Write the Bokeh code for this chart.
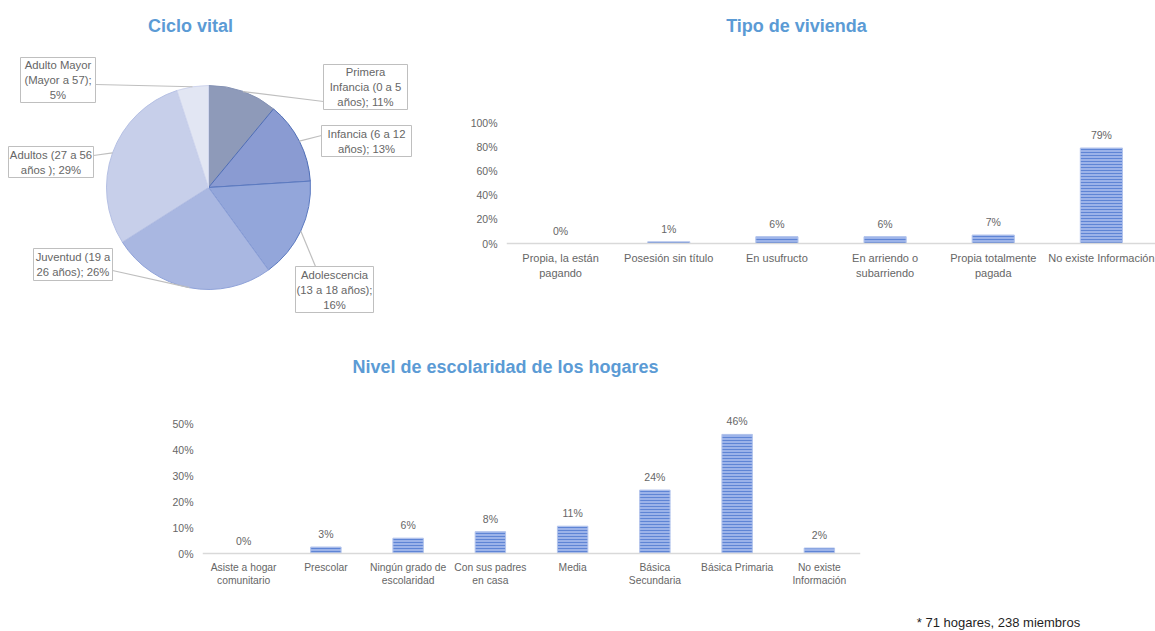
import math
from bokeh.plotting import figure
from bokeh.layouts import column, row
from bokeh.models import Range1d, FixedTicker, PrintfTickFormatter, ColumnDataSource
from bokeh.core.properties import value
from bokeh.embed import file_html
from bokeh.resources import INLINE

# ---------------- data ----------------
ciclo_names = ["Primera\nInfancia (0 a 5\naños)", "Infancia (6 a 12\naños)",
               "Adolescencia\n(13 a 18 años)", "Juventud (19 a\n26 años)",
               "Adultos (27 a 56\naños )", "Adulto Mayor\n(Mayor a 57)"]
ciclo_pct = [11, 13, 16, 26, 29, 5]
ciclo_sep = [" ", " ", "\n", " ", " ", "\n"]

vivienda_labels = ["Propia, la están\npagando", "Posesión sin título", "En usufructo",
                   "En arriendo o\nsubarriendo", "Propia totalmente\npagada", "No existe Información"]
vivienda_pct = [0.0, 1.4, 5.6, 5.6, 7.0, 78.9]
vivienda_ticks = [0, 20, 40, 60, 80, 100]

escolaridad_labels = ["Asiste a hogar\ncomunitario", "Prescolar", "Ningún grado de\nescolaridad",
                      "Con sus padres\nen casa", "Media", "Básica\nSecundaria",
                      "Básica Primaria", "No existe\nInformación"]
escolaridad_pct = [0.0, 2.5, 5.9, 8.4, 10.5, 24.4, 45.8, 2.1]
escolaridad_ticks = [0, 10, 20, 30, 40, 50]

titles = ["Ciclo vital", "Tipo de vivienda", "Nivel de escolaridad de los hogares"]
footnote = "* 71 hogares, 238 miembros"

# ---------------- styles ----------------
FONT = "Liberation Sans"
TITLE_COLOR = "#5B9BD5"
TEXT_GREY = "#666666"
ciclo_colors = ["#8E9AB9", "#8A9BD2", "#93A6DA", "#A9B7E1", "#C7CFEA", "#E2E6F3"]
ciclo_edges = ["#8592B4", "#4E6DB5", "#5C7AC0", "#8FA2D8", "#B5C0E4", "#D0D6EE"]


def pct_label(v):
    return "%d%%" % int(math.floor(v + 0.5))


def clean(p):
    p.grid.visible = False
    p.outline_line_color = None
    p.background_fill_color = "white"
    p.border_fill_color = "white"


# ---------------- pie (page x 0..440, page y 0..330) ----------------
pie = figure(width=440, height=330, x_range=Range1d(0, 440), y_range=Range1d(0, 330),
             output_backend="svg", toolbar_location=None, min_border=0)
clean(pie)
pie.axis.visible = False


def py(page_y):
    return 330 - page_y


cx, cy, R = 208, py(187), 102
total = float(sum(ciclo_pct))
starts, ends, mids = [], [], []
acc = 0.0
for v in ciclo_pct:
    a0 = acc / total
    acc += v
    a1 = acc / total
    starts.append(math.pi / 2 - 2 * math.pi * a0)
    ends.append(math.pi / 2 - 2 * math.pi * a1)
    mids.append(math.pi / 2 - 2 * math.pi * (a0 + a1) / 2)

wsrc = ColumnDataSource(dict(start=starts, end=ends, color=ciclo_colors, edge=ciclo_edges))
pie.wedge(x=cx, y=cy, radius=R, start_angle="start", end_angle="end", direction="clock",
          fill_color="color", line_color="edge", line_width=1, source=wsrc)

# label boxes (page coords: left, right, top, bottom) and leader anchors
boxes = [(323, 407, 64, 109), (321, 411, 125, 156), (295, 373, 266, 312),
         (33, 112, 248, 280), (8, 93, 146, 177), (20, 95, 57, 102)]
anchors = [(323, 101), (321, 135), (315, 266), (112, 270), (93, 155), (95, 84)]

lx, ly = [], []
for (ax, ay), m in zip(anchors, mids):
    lx.append([cx + R * math.cos(m), ax])
    ly.append([cy + R * math.sin(m), py(ay)])
pie.multi_line(xs=lx, ys=ly, line_color="#BFBFBF", line_width=1.2)

pie.quad(left=[b[0] for b in boxes], right=[b[1] for b in boxes],
         top=[py(b[2]) for b in boxes], bottom=[py(b[3]) for b in boxes],
         fill_color="white", line_color="#BFBFBF", line_width=1)
texts = [n + ";" + s + pct_label(v) for n, s, v in zip(ciclo_names, ciclo_sep, ciclo_pct)]
pie.text(x=[(b[0] + b[1]) / 2 for b in boxes], y=[py((b[2] + b[3]) / 2) for b in boxes],
         text=texts, text_align="center", text_baseline="middle", text_font=value(FONT),
         text_font_size="11.3px", text_color=TEXT_GREY, text_line_height=1.25)
pie.text(x=[190], y=[py(25)], text=[titles[0]], text_align="center", text_baseline="middle",
         text_font=value(FONT), text_font_size="18px", text_font_style="bold",
         text_color=TITLE_COLOR)


# ---------------- bar chart helper ----------------
def bar_chart(width, height, page_left, page_top, frame_left, frame_right, zero_y,
              labels, vals, ticks, px_per_unit, title, title_page_x, title_page_y, bar_w,
              xlabel_size):
    y_start = -(page_top + height - zero_y) / px_per_unit
    y_end = (zero_y - page_top) / px_per_unit
    n = len(labels)
    p = figure(width=width, height=height, x_range=Range1d(-0.5, n - 0.5),
               y_range=Range1d(y_start, y_end),
               output_backend="svg", toolbar_location=None,
               min_border_left=frame_left - page_left,
               min_border_right=(page_left + width) - frame_right,
               min_border_top=0, min_border_bottom=0)
    clean(p)
    xs = list(range(n))
    p.vbar(x=xs, top=vals, width=bar_w, bottom=0, fill_color="#9CB3E9",
           hatch_pattern="horizontal_line", hatch_color="#5F85D5", hatch_scale=3,
           hatch_weight=1.0, line_color="#B3C4EC", line_width=1)
    p.text(x=xs, y=vals, text=[pct_label(v) for v in vals], text_align="center",
           text_baseline="bottom", y_offset=-7, text_font=value(FONT), text_font_size="10.5px",
           text_color=TEXT_GREY)
    unit = (frame_right - frame_left) / float(n)
    tx = (title_page_x - frame_left) / unit - 0.5
    ty = (zero_y - title_page_y) / px_per_unit
    p.text(x=[tx], y=[ty], text=[title], text_align="center", text_baseline="middle",
           text_font=value(FONT), text_font_size="18px", text_font_style="bold",
           text_color=TITLE_COLOR)
    xa = p.xaxis[0]
    xa.fixed_location = 0
    xa.ticker = FixedTicker(ticks=xs)
    xa.major_label_overrides = {i: l for i, l in enumerate(labels)}
    xa.major_tick_line_color = None
    xa.major_tick_out = 0
    xa.major_tick_in = 0
    xa.minor_tick_line_color = None
    xa.axis_line_color = "#D9D9D9"
    xa.axis_line_width = 1.5
    xa.major_label_text_font = FONT
    xa.major_label_text_font_size = xlabel_size
    xa.major_label_text_color = TEXT_GREY
    xa.major_label_text_line_height = 1.25
    xa.major_label_standoff = 8
    ya = p.yaxis[0]
    ya.ticker = FixedTicker(ticks=ticks)
    ya.formatter = PrintfTickFormatter(format="%d%%")
    ya.axis_line_color = None
    ya.major_tick_line_color = None
    ya.major_tick_out = 0
    ya.major_tick_in = 0
    ya.minor_tick_line_color = None
    ya.major_label_text_font = FONT
    ya.major_label_text_font_size = "10.5px"
    ya.major_label_text_color = TEXT_GREY
    ya.major_label_standoff = 9
    return p


bar1 = bar_chart(715, 330, 440, 0, 506, 1155, 243, vivienda_labels, vivienda_pct,
                 vivienda_ticks, 1.21, titles[1], 796, 25, 0.39, "11px")
bar2 = bar_chart(870, 300, 0, 330, 202, 860, 553, escolaridad_labels, escolaridad_pct,
                 escolaridad_ticks, 2.6, titles[2], 505, 366, 0.37, "10.3px")

# ---------------- footnote (page x 870..1155, page y 330..630) ----------------
foot = figure(width=285, height=300, x_range=Range1d(870, 1155), y_range=Range1d(0, 300),
              output_backend="svg", toolbar_location=None, min_border=0)
clean(foot)
foot.axis.visible = False
foot.text(x=[998], y=[630 - 622], text=[footnote], text_align="center", text_baseline="middle",
          text_font=value(FONT), text_font_size="13px", text_color="#1F1F1F")

layout = column(row(pie, bar1), row(bar2, foot))
open("out.html", "w").write(file_html(layout, INLINE))
